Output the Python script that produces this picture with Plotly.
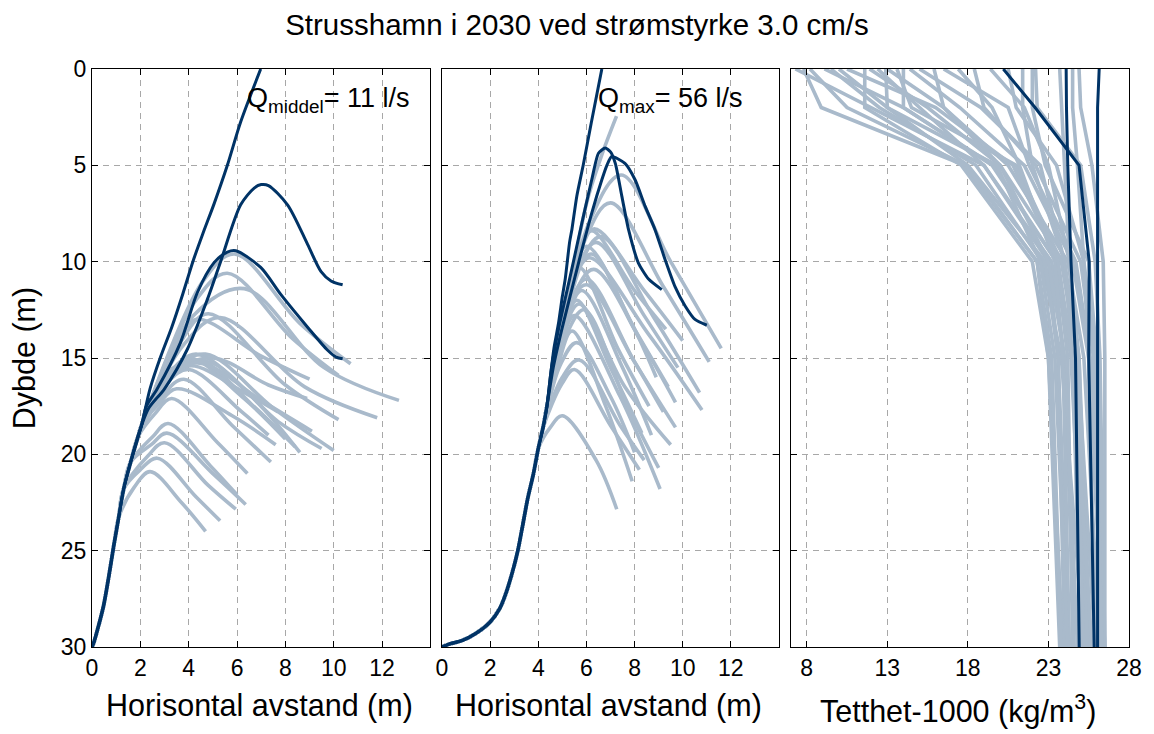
import plotly.graph_objects as go

# ---------------- data ----------------
# Panel 1 (Q middel): common trunk of all trajectories (x = horizontal distance, y = depth)
P1_TRUNK_X = [0, 0.08, 0.25, 0.48, 0.7, 0.9, 1.1, 1.31, 1.6, 1.9, 2.05]
P1_TRUNK_Y = [30, 29.75, 29.0, 27.85, 26.3, 24.75, 23.3, 21.8, 20.4, 19.1, 18.5]

# highlighted (dark) trajectories, continuing from the trunk end
P1_D1_X = [2.4, 2.85, 3.3, 3.75, 4.2, 4.6, 5.05, 5.6, 6.15, 6.98]
P1_D1_Y = [16.6, 14.9, 13.4, 11.7, 9.9, 8.5, 7.0, 5.0, 2.75, 0]
P1_D2_X = [2.35, 3.0, 3.94, 4.77, 5.32, 6.15, 6.71, 7.0, 7.3, 8.09, 8.92, 9.47, 9.89, 10.37]
P1_D2_Y = [17.6, 16.6, 14.56, 11.97, 10.0, 7.05, 6.18, 6.0, 6.05, 7.05, 9.1, 10.5, 11.0, 11.2]
P1_D3_X = [2.25, 2.7, 3.66, 4.36, 5.05, 5.6, 5.95, 6.98, 7.81, 8.92, 9.75, 10.1, 10.37]
P1_D3_Y = [17.5, 16.6, 14.2, 11.6, 10.05, 9.5, 9.43, 10.3, 11.7, 13.4, 14.6, 14.95, 15.04]

# light trajectories: trunk index they leave from, rise point, peak, fall point, end point
P1_BR = [6, 7, 7, 8, 8, 9, 9, 10, 10, 10, 10, 10, 10, 10, 10, 10, 10, 10, 10, 10, 10, 10, 10]
P1_RISE_X = [1.75, 2.0, 2.3, 2.45, 2.5, 2.6, 2.9, 2.75, 3.0, 3.1, 3.2, 3.15, 3.3, 3.05, 3.25, 3.4, 3.6, 3.8, 4.2, 4.3, 4.6, 3.1, 3.3]
P1_RISE_Y = [21.7, 20.8, 20.1, 19.5, 19.1, 17.9, 17.0, 17.4, 16.2, 16.0, 15.8, 16.0, 15.8, 16.1, 15.6, 14.6, 14.3, 14.3, 12.8, 12.0, 11.0, 16.3, 15.9]
P1_PEAK_X = [2.4, 2.7, 3.0, 3.1, 3.15, 3.3, 3.8, 3.5, 4.0, 4.3, 4.7, 4.4, 5.0, 4.1, 4.6, 4.3, 4.8, 5.3, 6.3, 5.6, 5.9, 4.0, 4.8]
P1_PEAK_Y = [20.9, 20.2, 19.4, 18.9, 18.4, 17.1, 16.1, 16.6, 15.0, 14.8, 14.8, 15.1, 15.0, 15.4, 15.3, 13.0, 12.7, 12.9, 11.4, 10.6, 9.6, 15.6, 15.2]
P1_FALL_X = [3.7, 4.3, 4.8, 5.0, 4.9, 5.2, 5.8, 5.8, 6.2, 6.6, 7.5, 6.6, 7.3, 6.3, 7.0, 7.0, 8.0, 8.8, 9.6, 8.3, 8.6, 6.2, 7.7]
P1_FALL_Y = [22.5, 22.2, 21.6, 21.0, 20.6, 19.4, 18.5, 18.0, 17.0, 17.0, 17.6, 17.4, 16.4, 16.8, 17.2, 14.9, 16.4, 16.5, 15.5, 14.0, 13.2, 17.8, 18.3]
P1_END_X = [4.7, 5.3, 5.95, 6.36, 6.0, 6.43, 7.4, 7.6, 8.0, 8.6, 10.0, 8.4, 8.9, 7.7, 9.1, 9.0, 10.2, 11.8, 12.7, 10.2, 10.7, 7.3, 9.5]
P1_END_Y = [24.0, 23.45, 22.85, 22.6, 22.1, 21.0, 20.4, 19.5, 19.2, 19.9, 19.8, 19.6, 17.1, 17.8, 18.8, 16.1, 18.2, 18.1, 17.2, 15.9, 15.3, 19.0, 19.7]

# Panel 2 (Q max)
P2_TRUNK_X = [0, 0.3, 0.83, 1.4, 2.0, 2.4, 2.66, 2.95, 3.15, 3.35, 3.56, 3.8, 4.0, 4.2, 4.36]
P2_TRUNK_Y = [30, 29.85, 29.67, 29.3, 28.7, 28.0, 27.2, 26.0, 25.0, 23.7, 22.3, 21.0, 19.7, 18.6, 17.5]

P2_D1_X = [4.5, 4.65, 4.84, 5.0, 5.12, 5.3, 5.4, 5.6, 5.87, 6.2, 6.64]
P2_D1_Y = [16.0, 14.5, 13.2, 11.8, 10.9, 9.0, 8.3, 6.6, 4.97, 2.8, 0]
P2_D2_X = [4.55, 4.84, 5.39, 5.81, 6.22, 6.5, 6.78, 7.0, 7.2, 7.47, 7.75, 8.16, 8.58, 9.13]
P2_D2_Y = [15.5, 13.5, 10.4, 8.0, 5.75, 4.37, 4.1, 4.3, 4.9, 6.6, 8.34, 10.07, 10.9, 11.45]
P2_D3_X = [4.62, 4.98, 5.67, 6.22, 6.64, 6.85, 7.05, 7.6, 8.02, 8.44, 8.85, 9.27, 9.68, 10.1, 10.51, 11.0]
P2_D3_Y = [15.5, 13.5, 10.07, 7.48, 5.75, 5.0, 4.54, 4.9, 5.75, 7.13, 8.34, 9.9, 11.3, 12.3, 13.0, 13.3]

# light trajectory that is still rising where it ends
P2_RISER_X = [5.0, 6.0, 6.6, 7.25]
P2_RISER_Y = [13.5, 7.0, 4.6, 2.45]

P2_BR = [14, 14, 14, 14, 14, 14, 14, 14, 14, 14, 14, 13, 13, 13, 13, 12, 14, 14, 14, 14, 14, 14, 14]
P2_RISE_X = [6.1, 5.9, 5.5, 5.7, 5.3, 5.4, 5.25, 5.1, 5.0, 5.1, 4.95, 4.8, 4.9, 5.0, 5.0, 4.5, 5.6, 5.2, 5.0, 5.5, 5.3, 5.2, 5.05]
P2_RISE_Y = [8.0, 9.0, 10.5, 10.3, 12.0, 12.0, 12.5, 13.4, 13.8, 14.0, 14.3, 15.5, 15.4, 16.0, 16.3, 18.6, 10.0, 12.0, 13.0, 10.8, 11.5, 12.5, 13.6]
P2_PEAK_X = [7.45, 7.0, 6.3, 6.6, 6.1, 6.3, 6.0, 5.8, 5.6, 5.9, 5.5, 5.4, 5.6, 5.7, 5.5, 5.0, 6.2, 6.0, 5.7, 6.4, 6.2, 6.0, 5.7]
P2_PEAK_Y = [5.5, 6.95, 8.3, 8.7, 9.8, 10.4, 10.9, 11.5, 12.0, 12.5, 12.8, 13.6, 14.2, 15.1, 15.6, 18.0, 8.4, 9.2, 10.3, 9.0, 9.6, 11.2, 12.2]
P2_FALL_X = [9.5, 9.2, 8.4, 8.8, 8.6, 8.3, 8.0, 7.5, 7.0, 7.7, 7.4, 6.8, 7.0, 7.4, 7.0, 6.4, 8.0, 7.8, 7.3, 8.4, 8.0, 7.9, 7.6]
P2_FALL_Y = [10.0, 11.3, 11.5, 12.9, 13.8, 14.2, 15.2, 15.5, 15.5, 17.5, 17.0, 17.5, 17.0, 18.5, 18.5, 20.3, 11.5, 13.0, 14.5, 12.8, 13.5, 15.0, 16.5]
P2_END_X = [11.6, 11.1, 10.0, 10.7, 10.8, 9.7, 9.7, 8.7, 8.3, 9.0, 9.06, 7.9, 8.0, 8.4, 8.2, 7.26, 9.3, 8.9, 8.6, 9.8, 9.4, 9.2, 9.5]
P2_END_Y = [14.5, 15.2, 14.1, 16.8, 17.7, 17.3, 18.6, 19.0, 18.9, 20.7, 21.8, 21.4, 19.9, 20.3, 20.8, 22.85, 13.5, 16.0, 17.5, 15.5, 16.5, 17.8, 19.5]

# Panel 3: density profiles (density - 1000) at fixed depths
P3_DEPTH = [0, 2, 5, 10, 15, 30]
P3_S0 = [7.3, 7.8, 9.1, 9.5, 10.0, 11.6, 11.9, 12.4, 13.0, 13.6, 14.0, 14.4, 15.0, 15.9, 16.5, 17.4, 18.4, 19.4, 21.4, 22.0, 22.2, 23.7, 24.9, 24.5, 8.2, 12.9, 10.5, 20.5]
P3_S2 = [12.0, 8.9, 14.0, 12.5, 13.0, 11.6, 15.5, 15.0, 16.5, 14.5, 14.0, 17.5, 18.8, 16.5, 20.5, 19.5, 19.0, 21.5, 21.4, 22.0, 22.3, 23.8, 25.0, 24.5, 10.5, 13.0, 16.0, 21.0]
P3_S5 = [19.0, 17.8, 19.6, 18.5, 18.0, 17.6, 20.0, 19.0, 20.5, 21.0, 19.5, 21.5, 22.5, 20.0, 21.8, 21.2, 22.2, 23.0, 22.0, 22.8, 25.0, 24.0, 25.7, 24.8, 17.9, 19.8, 20.8, 23.5]
P3_S10 = [23.0, 22.3, 23.5, 22.6, 22.8, 22.0, 23.9, 23.2, 24.2, 23.8, 23.5, 24.5, 24.0, 23.0, 24.7, 23.4, 25.0, 24.3, 24.0, 25.5, 25.9, 24.3, 26.4, 25.2, 22.3, 22.5, 23.6, 25.2]
P3_S15 = [23.6, 23.0, 24.2, 23.8, 23.6, 23.0, 24.8, 24.0, 25.2, 24.8, 24.4, 25.5, 24.5, 24.0, 25.6, 23.9, 25.8, 24.8, 24.9, 26.0, 26.2, 24.9, 26.5, 25.5, 23.2, 23.4, 24.5, 25.9]
P3_S30 = [24.0, 23.7, 24.5, 25.2, 24.3, 23.9, 25.5, 24.6, 26.2, 25.9, 25.3, 26.4, 25.0, 24.8, 26.5, 24.3, 26.3, 25.2, 25.6, 26.4, 26.5, 25.4, 26.5, 25.9, 23.8, 24.2, 25.7, 26.3]

P3_DARK_A = [24.1, 24.12, 24.2, 24.4, 24.68, 24.91]
P3_DARK_B = [20.2, 22.17, 24.9, 25.53, 25.5, 25.84]
P3_DARK_C = [26.15, 26.05, 26.05, 26.05, 26.05, 26.05]

X12_TICKS = [0, 2, 4, 6, 8, 10, 12]
X3_TICKS = [8, 13, 18, 23, 28]
Y_TICKS = [0, 5, 10, 15, 20, 25, 30]

TITLE = "Strusshamn i 2030 ved strømstyrke 3.0 cm/s"
ANN1 = "Q<sub>middel</sub>= 11 l/s"
ANN2 = "Q<sub>max</sub>= 56 l/s"

# ---------------- styling ----------------
DARK = "#003366"
LIGHT = "#a9bacb"
FONT = "Liberation Sans, Arial, sans-serif"

# the page body has an 8 px margin, so the figure is 1146x726 and drawn from (8, 8)
FIG_W, FIG_H = 1146, 726
OFF = 8

fig = go.Figure()


def add(xs, ys, color, width, xa, ya, smooth=1.0, shape="spline"):
    line = dict(color=color, width=width, shape=shape)
    if shape == "spline":
        line["smoothing"] = smooth
    fig.add_trace(go.Scatter(x=xs, y=ys, mode="lines", line=line,
                             xaxis=xa, yaxis=ya, showlegend=False,
                             hoverinfo="skip"))


def light_set(trunk_x, trunk_y, br, rx, ry, px, py, fx, fy, ex, ey, xa, ya):
    for i in range(len(br)):
        k = br[i] + 1
        xs = list(trunk_x[:k]) + [rx[i], px[i], fx[i], ex[i]]
        ys = list(trunk_y[:k]) + [ry[i], py[i], fy[i], ey[i]]
        add(xs, ys, LIGHT, 3.6, xa, ya, smooth=1.0)


# panel 1
light_set(P1_TRUNK_X, P1_TRUNK_Y, P1_BR, P1_RISE_X, P1_RISE_Y, P1_PEAK_X, P1_PEAK_Y,
          P1_FALL_X, P1_FALL_Y, P1_END_X, P1_END_Y, "x", "y")
for dx, dy in [(P1_D1_X, P1_D1_Y), (P1_D2_X, P1_D2_Y), (P1_D3_X, P1_D3_Y)]:
    add(P1_TRUNK_X + dx, P1_TRUNK_Y + dy, DARK, 3, "x", "y", smooth=0.8)

# panel 2
light_set(P2_TRUNK_X, P2_TRUNK_Y, P2_BR, P2_RISE_X, P2_RISE_Y, P2_PEAK_X, P2_PEAK_Y,
          P2_FALL_X, P2_FALL_Y, P2_END_X, P2_END_Y, "x2", "y2")
add(P2_TRUNK_X + P2_RISER_X, P2_TRUNK_Y + P2_RISER_Y, LIGHT, 3.6, "x2", "y2")
for dx, dy in [(P2_D1_X, P2_D1_Y), (P2_D2_X, P2_D2_Y), (P2_D3_X, P2_D3_Y)]:
    add(P2_TRUNK_X + dx, P2_TRUNK_Y + dy, DARK, 3, "x2", "y2", smooth=0.6)

# panel 3
for i in range(len(P3_S0)):
    xs = [P3_S0[i], P3_S2[i], P3_S5[i], P3_S10[i], P3_S15[i], P3_S30[i]]
    add(xs, P3_DEPTH, LIGHT, 3.6, "x3", "y3", shape="linear")
for prof in [P3_DARK_A, P3_DARK_B, P3_DARK_C]:
    add(prof, P3_DEPTH, DARK, 3, "x3", "y3", shape="linear")

axis_common = dict(showline=True, linecolor="black", linewidth=1.3, mirror="ticks",
                   ticks="inside", ticklen=6, tickwidth=1.2, tickcolor="black",
                   showgrid=True, gridcolor="#a8a8a8", griddash="6px,5px", gridwidth=1,
                   zeroline=False,
                   tickfont=dict(family=FONT, size=23, color="black"))

# plot area on the page: x 92..1133, y 69..647
fig.update_layout(
    width=FIG_W, height=FIG_H,
    margin=dict(l=92 - OFF, r=FIG_W - (1133 - OFF), t=69 - OFF, b=FIG_H - (647 - OFF)),
    plot_bgcolor="white", paper_bgcolor="white",
    xaxis=dict(domain=[0, 0.3263], range=[0, 14], tickvals=X12_TICKS, anchor="y", **axis_common),
    xaxis2=dict(domain=[0.3375, 0.6625], range=[0, 14], tickvals=X12_TICKS, anchor="y2", **axis_common),
    xaxis3=dict(domain=[0.6737, 1.0], range=[7, 28], tickvals=X3_TICKS, anchor="y3", **axis_common),
    yaxis=dict(domain=[0, 1], range=[30, 0], tickvals=Y_TICKS, anchor="x", **axis_common),
    yaxis2=dict(domain=[0, 1], range=[30, 0], tickvals=Y_TICKS, anchor="x2", showticklabels=False, **axis_common),
    yaxis3=dict(domain=[0, 1], range=[30, 0], tickvals=Y_TICKS, anchor="x3", showticklabels=False, **axis_common),
    title=dict(text=TITLE, x=(577 - OFF) / FIG_W, xref="container", xanchor="center",
               y=1 - (25 - OFF) / FIG_H, yref="container", yanchor="middle",
               font=dict(family=FONT, size=29.5, color="black")),
)

PW, PH = 1041.0, 578.0


def px_x(p):
    return (p - 92) / PW


def px_y(p):
    return (647 - p) / PH


lab_font = dict(family=FONT, size=30.5, color="black")
ann_font = dict(family=FONT, size=27, color="black")
fig.add_annotation(text="Horisontal avstand (m)", xref="paper", yref="paper",
                   x=px_x(260), y=px_y(705), showarrow=False, font=lab_font,
                   xanchor="center", yanchor="middle")
fig.add_annotation(text="Horisontal avstand (m)", xref="paper", yref="paper",
                   x=px_x(610), y=px_y(705), showarrow=False, font=lab_font,
                   xanchor="center", yanchor="middle")
fig.add_annotation(text="Tetthet-1000 (kg/m<sup>3</sup>)", xref="paper", yref="paper",
                   x=px_x(961), y=px_y(709), showarrow=False, font=lab_font,
                   xanchor="center", yanchor="middle")
fig.add_annotation(text="Dybde (m)", xref="paper", yref="paper", textangle=-90,
                   x=px_x(24), y=0.5, showarrow=False, font=lab_font,
                   xanchor="center", yanchor="middle")
fig.add_annotation(text=ANN1, xref="x", yref="y", x=6.35, y=1.6, showarrow=False,
                   font=ann_font, xanchor="left", yanchor="middle")
fig.add_annotation(text=ANN2, xref="x2", yref="y2", x=6.4, y=1.6, showarrow=False,
                   font=ann_font, xanchor="left", yanchor="middle")

fig.write_html("out.html")
